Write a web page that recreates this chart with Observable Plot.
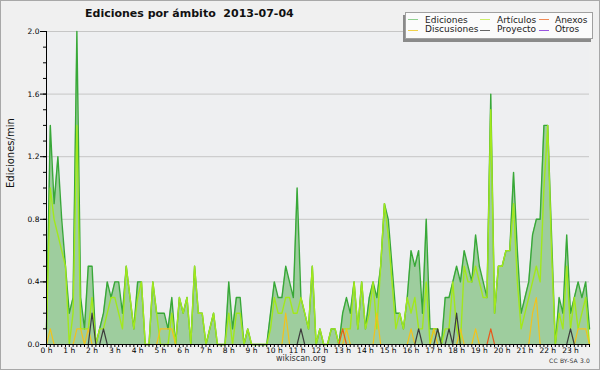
<!DOCTYPE html>
<html><head><meta charset="utf-8">
<script src="https://cdn.jsdelivr.net/npm/d3@7"></script>
<script src="https://cdn.jsdelivr.net/npm/@observablehq/plot@0.6"></script>
<style>
html,body{margin:0;padding:0;background:#fff}
#wrap{position:relative;width:600px;height:370px;background:#f0f0f0;overflow:hidden;font-family:"DejaVu Sans",sans-serif}
#border{position:absolute;left:0;top:0;width:600px;height:370px;box-sizing:border-box;border:1px solid #a8a8a8;pointer-events:none}
#chart{position:absolute;left:0;top:0}
.t{position:absolute;white-space:nowrap;color:#111}
#title{left:85px;top:8px;font:bold 11px/11px "DejaVu Sans";}
#legend{position:absolute;left:405px;top:12px;width:188px;height:27px;box-sizing:border-box;background:#fbfbfb;border:1px solid #a0a0a0;box-shadow:-2px 3px 0 #8a8a8a}
.lt{position:absolute;font:9px/9px "DejaVu Sans";color:#222;white-space:nowrap}
.sw{position:absolute;width:10px;height:1px}
#site{left:276px;top:355px;font:8px/8px "DejaVu Sans";color:#333}
#cc{left:549px;top:358px;font:6px/6px "DejaVu Sans";color:#333;letter-spacing:0.2px}
</style></head>
<body>
<div id="wrap">
  <div id="chart"></div>
  <div class="t" id="title">Ediciones por ámbito&nbsp;&nbsp;2013-07-04</div>
  <div id="legend"></div>
  <div class="t" id="site">wikiscan.org</div>
  <div class="t" id="cc">CC BY-SA 3.0</div>
  <div id="border"></div>
</div>
<script>
// 10-minute bins, values in edits per minute
const ediciones = [
0.1,1.4,0.9,1.2,0.8,0.5,0.2,0.3,2.0,0.3,
0.1,0.5,0.5,0.0,0.1,0.2,0.4,0.3,0.4,0.4,
0.2,0.5,0.3,0.1,0.4,0.4,0.0,0.0,0.4,0.2,
0.2,0.2,0.1,0.3,0.0,0.3,0.2,0.3,0.0,0.5,
0.2,0.2,0.0,0.1,0.2,0.0,0.0,0.0,0.4,0.1,
0.3,0.3,0.0,0.1,0.0,0.0,0.0,0.0,0.0,0.2,
0.4,0.3,0.3,0.5,0.4,0.3,1.0,0.3,0.2,0.1,
0.5,0.0,0.1,0.0,0.0,0.1,0.1,0.0,0.2,0.3,
0.2,0.4,0.1,0.4,0.1,0.3,0.4,0.3,0.5,0.9,
0.8,0.5,0.2,0.2,0.1,0.3,0.6,0.5,0.6,0.2,
0.8,0.1,0.1,0.1,0.0,0.3,0.3,0.4,0.5,0.4,
0.6,0.5,0.4,0.7,0.5,0.4,0.3,1.6,0.2,0.5,
0.5,0.6,0.6,1.1,0.6,0.2,0.3,0.4,0.7,0.8,
0.8,1.4,1.4,0.7,0.0,0.3,0.2,0.7,0.2,0.3,
0.4,0.3,0.4,0.1];
const articulos = [
0.1,1.0,0.8,0.7,0.6,0.5,0.0,0.2,1.4,0.1,
0.1,0.1,0.3,0.0,0.1,0.1,0.2,0.3,0.3,0.2,
0.1,0.5,0.3,0.1,0.3,0.4,0.0,0.0,0.4,0.2,
0.0,0.0,0.0,0.2,0.0,0.3,0.2,0.3,0.0,0.5,
0.2,0.2,0.0,0.1,0.2,0.0,0.0,0.0,0.2,0.0,
0.2,0.2,0.0,0.1,0.0,0.0,0.0,0.0,0.0,0.1,
0.3,0.2,0.2,0.3,0.3,0.2,0.2,0.3,0.2,0.1,
0.5,0.0,0.1,0.0,0.0,0.1,0.1,0.0,0.1,0.1,
0.1,0.4,0.1,0.4,0.1,0.2,0.4,0.1,0.5,0.9,
0.7,0.4,0.1,0.2,0.1,0.3,0.2,0.3,0.1,0.1,
0.4,0.0,0.1,0.1,0.0,0.1,0.1,0.4,0.1,0.0,
0.5,0.4,0.4,0.5,0.4,0.3,0.3,1.5,0.2,0.5,
0.5,0.6,0.6,0.9,0.4,0.1,0.2,0.3,0.4,0.5,
0.4,1.0,1.4,0.6,0.0,0.2,0.1,0.5,0.1,0.3,
0.1,0.2,0.3,0.0];
const discusiones = [
0,0.1,0,0,0,0,0,0,0.1,0.1,
0,0.1,0,0,0,0,0,0,0,0,
0,0,0,0,0,0,0,0,0,0,
0.1,0.1,0.1,0.1,0,0,0,0,0,0,
0,0,0,0,0,0,0,0,0,0,
0,0,0,0,0,0,0,0,0,0,
0,0,0,0.2,0,0,0,0,0,0,
0,0,0,0,0,0,0,0,0,0.1,
0,0,0,0,0,0,0,0.2,0,0,
0,0,0,0,0,0,0.1,0,0,0,
0,0,0.1,0,0,0,0,0,0,0.1,
0,0,0,0.1,0,0,0,0,0,0,
0,0,0,0,0,0,0,0,0.2,0.3,
0,0,0,0,0,0,0,0,0,0,
0.1,0.1,0.1,0];
const anexos = [
0,0,0,0,0,0,0,0,0,0, 0,0,0,0,0,0,0,0,0,0,
0,0,0,0,0,0,0,0,0,0, 0,0,0,0,0,0,0,0,0,0,
0,0,0,0,0,0,0,0,0,0, 0,0,0,0,0,0,0,0,0,0,
0,0,0,0,0,0,0,0,0,0, 0,0,0,0,0,0,0,0,0.1,0,
0,0,0,0,0,0,0,0,0,0, 0,0,0,0,0,0,0,0,0,0,
0,0,0,0,0,0,0,0,0,0, 0,0,0,0,0,0,0,0.1,0,0,
0,0,0,0,0,0,0,0,0,0, 0,0,0,0,0,0,0,0,0,0,
0,0,0,0];
const proyecto = [
0,0,0,0,0,0,0,0,0,0, 0,0,0.2,0,0,0.1,0,0,0,0,
0,0,0,0,0,0,0,0,0,0, 0,0,0,0,0,0,0,0,0,0,
0,0,0,0,0,0,0,0,0,0, 0,0,0,0,0,0,0,0,0,0,
0,0,0,0,0,0,0,0.1,0,0, 0,0,0,0,0,0,0,0,0,0,
0,0,0,0,0,0,0,0,0,0, 0,0,0,0,0,0,0,0,0.1,0,
0,0,0,0.1,0,0,0.1,0,0.2,0, 0,0,0,0,0,0,0,0,0,0,
0,0,0,0,0,0,0,0,0,0, 0,0,0,0,0,0,0,0,0.1,0,
0,0,0,0];
const otros = ediciones.map(() => 0);

const yTicks = [0, 0.4, 0.8, 1.2, 1.6, 2.0];
const yMinor = d3.range(0, 21).map(k => k / 10);
const hourTicks = d3.range(0, 24);
const seriesNames = ["Ediciones", "Artículos", "Anexos", "Discusiones", "Proyecto", "Otros"];
const legendColors = ["#8fd08f", "#cdee6a", "#f08a55", "#f2d24a", "#666666", "#9a55e0"];

const minutes = ediciones.map((_, i) => i * 10);
const rows = minutes.map((m, i) => ({
  m, ed: ediciones[i], art: articulos[i], disc: discusiones[i],
  anx: anexos[i], proy: proyecto[i], otr: otros[i]
}));

const chart = Plot.plot({
  width: 600, height: 370,
  marginLeft: 46, marginRight: 11, marginTop: 31, marginBottom: 26,
  style: {background: "transparent", fontFamily: "DejaVu Sans", fontSize: "7.5px", color: "#000"},
  x: {domain: [0, 1430]},
  y: {domain: [0, 2]},
  marks: [
    Plot.frame({fill: "#eeeff1", stroke: null}),
    Plot.gridY(yTicks.slice(1), {stroke: "#c6c6c6", strokeOpacity: 1}),
    Plot.areaY(rows, {x: "m", y: "ed", fill: "#9ecd9e"}),
    Plot.lineY(rows, {x: "m", y: "otr", stroke: "#9a55e0", strokeWidth: 1.2}),
    Plot.lineY(rows, {x: "m", y: "ed", stroke: "#38a838", strokeWidth: 1.4}),
    Plot.lineY(rows, {x: "m", y: "art", stroke: "#a2e81c", strokeWidth: 1.4}),
    Plot.lineY(rows, {x: "m", y: "disc", stroke: "#f2c21c", strokeWidth: 1.2}),
    Plot.lineY(rows, {x: "m", y: "anx", stroke: "#e8581c", strokeWidth: 1.2}),
    Plot.lineY(rows, {x: "m", y: "proy", stroke: "#3c3c3c", strokeWidth: 1.2}),
    Plot.ruleX([0], {stroke: "#000"}),
    Plot.ruleY([0], {stroke: "#000"}),
    Plot.axisY({ticks: yMinor, tickSize: 3, tickFormat: () => "", label: null}),
    Plot.axisY({ticks: yTicks, tickSize: 6, tickPadding: 1, tickFormat: d3.format(".1f"), label: null}),
    Plot.axisX({ticks: minutes, tickSize: 3, tickFormat: () => "", label: null}),
    Plot.axisX({ticks: hourTicks.map(h => h * 60), tickSize: 0, tickPadding: 3, tickFormat: d => `${d / 60} h`, label: null}),
    Plot.text(["Ediciones/min"], {frameAnchor: "left", rotate: -90, dx: -36, fontSize: 10, fill: "#111"})
  ]
});
document.getElementById("chart").appendChild(chart);

// legend
const lg = document.getElementById("legend");
const colX = [2, 74, 133];   // relative to legend box (page x = 405 + ...)
const textX = [19, 91, 149];
const rowSw = [6, 16.5];
const rowTop = [2.5, 12.3];
const order = [[0, 0, 0], [1, 0, 1], [2, 0, 2], [3, 1, 0], [4, 1, 1], [5, 1, 2]];
order.forEach(([k, r, c]) => {
  const sw = document.createElement("div");
  sw.className = "sw";
  sw.style.left = colX[c] + "px";
  sw.style.top = rowSw[r] + "px";
  sw.style.background = legendColors[k];
  lg.appendChild(sw);
  const t = document.createElement("div");
  t.className = "lt";
  t.style.left = textX[c] + "px";
  t.style.top = rowTop[r] + "px";
  t.textContent = seriesNames[k];
  lg.appendChild(t);
});
</script>
</body></html>
